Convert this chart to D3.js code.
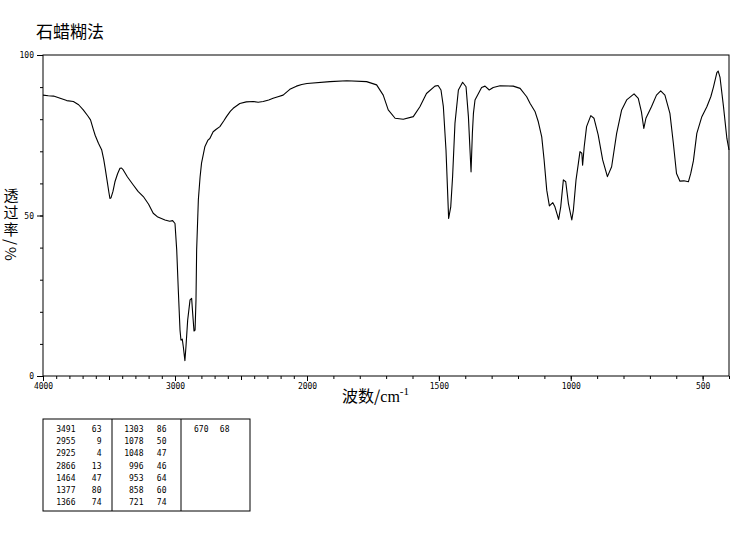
<!DOCTYPE html>
<html>
<head>
<meta charset="utf-8">
<script src="https://cdn.jsdelivr.net/npm/d3@7"></script>
<style>
  html, body { margin: 0; padding: 0; background: #fff; }
  svg { display: block; }
  text { fill: #000; }
</style>
</head>
<body>
<svg id="chart" width="735" height="539"></svg>
<script>
// ---- data (wavenumber cm^-1, transmittance %) ----
const wavenumbers = [
  4000, 3960, 3920, 3870, 3820, 3770, 3730, 3695, 3660, 3640, 3620, 3605, 3580, 3555, 3540, 3530,
  3515, 3500, 3493, 3485, 3470, 3455, 3435, 3417, 3405, 3392, 3360, 3316, 3280, 3240, 3200, 3165,
  3130, 3076, 3040, 3018, 3000, 2987, 2975, 2962, 2955, 2945, 2937, 2925, 2917, 2904, 2886, 2874,
  2866, 2856, 2848, 2841, 2836, 2823, 2810, 2799, 2774, 2750, 2736, 2711, 2690, 2660, 2630, 2610,
  2580, 2559, 2509, 2460, 2408, 2370, 2332, 2290, 2257, 2220, 2181, 2130, 2080, 2040, 2000,
  1913, 1849, 1774, 1736, 1711, 1692, 1666, 1635, 1597, 1572, 1547, 1515, 1503, 1492, 1483, 1473,
  1463, 1455, 1448, 1439, 1426, 1410, 1397, 1388, 1382, 1378, 1373, 1369, 1363, 1350, 1338, 1325,
  1309, 1294, 1268, 1218, 1192, 1167, 1154, 1135, 1123, 1110, 1101, 1091, 1081, 1068, 1060, 1046,
  1038, 1028, 1019, 1009, 996, 990, 980, 971, 965, 958, 955, 949, 940, 924, 912, 896,
  879, 861, 845, 826, 807, 788, 760, 744, 732, 723, 715, 694, 675, 659, 643, 624,
  611, 599, 586, 571, 554, 545, 535, 522, 503, 484, 469, 459, 446, 441, 434, 421,
  408, 400
];
const transmittance = [
  87.5, 87.3, 87.2, 86.5, 85.8, 85.5, 84.5, 82.9, 81.0, 79.8, 77.0, 75.0, 72.5, 70.4, 67.5, 65.0,
  61.0, 57.0, 55.3, 55.5, 57.5, 60.5, 63.0, 64.7, 64.8, 64.2, 62.0, 59.5, 57.5, 55.9, 53.5, 50.7,
  49.5, 48.6, 48.2, 48.4, 47.5, 39.3, 26.8, 14.3, 11.2, 11.5, 9.1, 4.8, 9.1, 17.4, 23.7, 24.2,
  19.5, 14.0, 14.3, 23.7, 39.3, 55.0, 62.0, 66.3, 71.4, 73.5, 74.0, 76.1, 76.8, 77.7, 79.5, 80.8,
  82.5, 83.4, 84.9, 85.4, 85.5, 85.3, 85.5, 86.0, 86.5, 87.0, 87.5, 89.3, 90.3, 90.8, 91.1,
  91.7, 92.0, 91.7, 90.7, 87.5, 82.9, 80.3, 80.0, 80.8, 83.9, 88.0, 90.3, 90.5, 89.1, 83.9, 70.4,
  49.1, 52.7, 62.1, 78.7, 89.1, 91.5, 90.1, 80.8, 70.4, 63.6, 75.6, 81.8, 86.0, 88.0, 89.9, 90.3,
  89.1, 89.9, 90.4, 90.3, 89.6, 87.0, 84.9, 82.3, 79.2, 74.5, 67.3, 57.9, 53.0, 54.0, 52.7, 48.8,
  52.7, 61.1, 60.5, 53.8, 48.6, 51.7, 61.1, 66.3, 69.9, 69.4, 65.7, 71.4, 77.7, 81.1, 80.3, 75.1,
  67.3, 62.1, 65.2, 75.6, 82.9, 86.0, 87.9, 86.5, 82.3, 77.1, 80.3, 83.9, 87.5, 88.8, 87.5, 81.8,
  72.5, 63.1, 60.7, 60.8, 60.5, 63.1, 67.0, 75.6, 80.8, 83.9, 87.0, 90.0, 94.5, 95.0, 93.0, 84.0,
  74.0, 70.4
];
// tick labels
const xMajorTicks = [4000, 3000, 2000, 1500, 1000, 500];
const xMidTicks = [3500, 2500];
const yMajorTicks = [0, 50, 100];
// peak table (three column groups)
const peakWave = [
  ["3491", "2955", "2925", "2866", "1464", "1377", "1366"],
  ["1303", "1078", "1048", "996", "953", "858", "721"],
  ["670"]
];
const peakT = [
  ["63", "9", "4", "13", "47", "80", "74"],
  ["86", "50", "47", "46", "64", "60", "74"],
  ["68"]
];
const title = "石蜡糊法";
const yLabel = "透过率/%";

// ---- drawing ----
const svg = d3.select("#chart");
const L = 43, R = 729, T = 55, B = 376;
const x = d3.scaleLinear().domain([4000, 2000, 400]).range([L, 307, R]);
const y = d3.scaleLinear().domain([0, 100]).range([B, T]);
const mono = "'DejaVu Sans Mono', monospace";
const cjk = "'Noto Sans CJK SC', sans-serif";

// title
svg.append("text").attr("x", 36).attr("y", 38)
  .attr("font-family", cjk).attr("font-size", 17).text(title);

// x axes (ticks)
const gx = svg.append("g").attr("transform", `translate(0,${B})`);
gx.append("g").call(d3.axisBottom(x).tickValues(d3.range(400, 4001, 100)).tickSize(3).tickFormat(""));
gx.append("g").call(d3.axisBottom(x).tickValues(xMidTicks).tickSize(4).tickFormat(""));
gx.append("g").call(d3.axisBottom(x).tickValues(xMajorTicks).tickSize(5).tickPadding(2)
  .tickFormat(d => String(d)));
gx.selectAll(".domain").remove();
gx.selectAll("text").attr("font-family", mono).attr("font-size", 8).attr("fill", "#000");
gx.selectAll("line").attr("stroke", "#000");

// y axes (ticks)
const gy = svg.append("g").attr("transform", `translate(${L},0)`);
gy.append("g").call(d3.axisLeft(y).tickValues(d3.range(0, 101, 10)).tickSize(3).tickFormat(""));
gy.append("g").call(d3.axisLeft(y).tickValues(yMajorTicks).tickSize(6).tickPadding(3)
  .tickFormat(d => String(d)));
gy.selectAll(".domain").remove();
gy.selectAll("text").attr("font-family", mono).attr("font-size", 8).attr("fill", "#000");
gy.selectAll("line").attr("stroke", "#000");

// frame
svg.append("rect").attr("x", L).attr("y", T).attr("width", R - L).attr("height", B - T)
  .attr("fill", "none").attr("stroke", "#000").attr("stroke-width", 1);

// spectrum
const pts = wavenumbers.map((w, i) => [w, transmittance[i]]);
svg.append("path").datum(pts)
  .attr("d", d3.line().x(d => x(d[0])).y(d => y(d[1])))
  .attr("fill", "none").attr("stroke", "#000").attr("stroke-width", 1.1)
  .attr("stroke-linejoin", "round");

// y label (vertical writing)
svg.append("text").attr("x", 11).attr("y", 188)
  .attr("font-family", cjk).attr("font-size", 15)
  .style("writing-mode", "vertical-rl").style("letter-spacing", "2px")
  .text(yLabel);

// x label
const xl = svg.append("text").attr("x", 342).attr("y", 402).attr("font-size", 16);
xl.append("tspan").attr("font-family", cjk).text("波数/");
xl.append("tspan").attr("font-family", "'Liberation Serif', serif").text("cm");
xl.append("tspan").attr("font-family", "'Liberation Serif', serif").attr("font-size", 11)
  .attr("dy", -7).text("-1");

// peak table
const tb = svg.append("g");
tb.append("rect").attr("x", 43).attr("y", 419).attr("width", 207).attr("height", 92)
  .attr("fill", "none").attr("stroke", "#000");
[112, 181].forEach(xx => tb.append("line").attr("x1", xx).attr("x2", xx)
  .attr("y1", 419).attr("y2", 511).attr("stroke", "#000"));
const colWaveRight = [75.5, 143.5, 208.5];
const colTRight = [101.5, 166.5, 229.5];
peakWave.forEach((col, g) => {
  col.forEach((w, r) => {
    const yy = 432 + r * 12.2;
    tb.append("text").attr("x", colWaveRight[g]).attr("y", yy).attr("text-anchor", "end")
      .attr("font-family", mono).attr("font-size", 8).text(w);
    tb.append("text").attr("x", colTRight[g]).attr("y", yy).attr("text-anchor", "end")
      .attr("font-family", mono).attr("font-size", 8).text(peakT[g][r]);
  });
});
</script>
</body>
</html>
